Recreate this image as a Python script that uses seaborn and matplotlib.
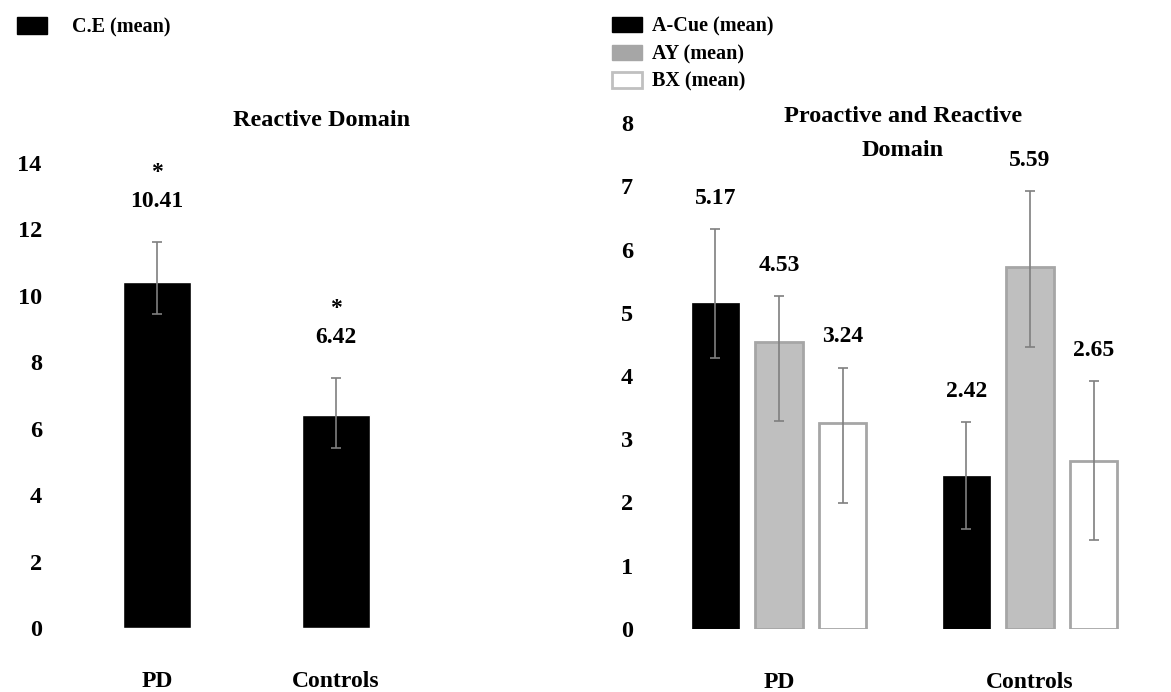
import numpy as np
import pandas as pd
import seaborn as sns
import matplotlib.pyplot as plt
from matplotlib.patches import Patch

# Data
groups = ["PD", "Controls"]

ce_mean = [10.41, 6.42]
ce_low = [9.46, 5.42]
ce_high = [11.63, 7.53]
ce_labels = ["10.41", "6.42"]

conditions = ["A-Cue (mean)", "AY (mean)", "BX (mean)"]
pd_means = [5.15, 4.54, 3.26]
ctrl_means = [2.42, 5.72, 2.66]
pd_low = [4.28, 3.29, 1.99]
pd_high = [6.32, 5.26, 4.13]
ctrl_low = [1.58, 4.46, 1.41]
ctrl_high = [3.27, 6.92, 3.92]
pd_labels = ["5.17", "4.53", "3.24"]
ctrl_labels = ["2.42", "5.59", "2.65"]

# Colours
BLACK = "#000000"
LIGHT = "#bfbfbf"
EDGE = "#a6a6a6"
ERR = "#7f7f7f"

sns.set_theme(style="white")
plt.rcParams['font.family'] = ['Liberation Serif', 'DejaVu Serif']
plt.rcParams['font.weight'] = 'bold'
for key in ['text.color', 'axes.labelcolor', 'xtick.color', 'ytick.color']:
    plt.rcParams[key] = BLACK

W, H = 1171, 692
fig = plt.figure(figsize=(W / 100, H / 100), dpi=100)


def px_axes(left, right, bottom, top):
    return fig.add_axes([left / W, (H - bottom) / H, (right - left) / W, (bottom - top) / H])


# ---------------- Left panel: Reactive Domain ----------------
ax1 = px_axes(58.5, 434.5, 628, 163)
df1 = pd.DataFrame({"group": groups, "value": ce_mean})
sns.barplot(data=df1, x="group", y="value", color=BLACK, width=0.375,
            saturation=1, errorbar=None, ax=ax1)
ax1.set_xlim(-0.55, 1.55)
ax1.set_ylim(0, 14)
ax1.set_yticks(np.arange(0, 15, 2))

xs1 = [p.get_x() + p.get_width() / 2 for p in ax1.patches]
yerr1 = [np.subtract(ce_mean, ce_low), np.subtract(ce_high, ce_mean)]
ax1.errorbar(xs1, ce_mean, yerr=yerr1, fmt="none", ecolor=ERR, elinewidth=1.2,
             capsize=3.5, capthick=1.2)
for x, top, lab in zip(xs1, ce_high, ce_labels):
    ax1.annotate(lab, (x, top), xytext=(0, 40), textcoords="offset pixels",
                 ha="center", va="center", fontsize=17, fontweight="bold")
    ax1.annotate("*", (x, top), xytext=(0, 69), textcoords="offset pixels",
                 ha="center", va="center", fontsize=17, fontweight="bold")

ax1.text(322 / W, (H - 121) / H, "Reactive Domain", transform=fig.transFigure,
         ha="center", va="center", fontsize=17.5, fontweight="bold")

# ---------------- Right panel: Proactive and Reactive Domain ----------------
ax2 = px_axes(660, 1160, 629, 123)
df2 = pd.DataFrame({
    "group": np.repeat(groups, len(conditions)),
    "condition": conditions * len(groups),
    "value": pd_means + ctrl_means,
})
sns.barplot(data=df2, x="group", y="value", hue="condition", hue_order=conditions,
            palette=[BLACK, LIGHT, "white"], width=0.76, gap=0.26, saturation=1,
            errorbar=None, legend=False, ax=ax2)
ax2.set_xlim(-0.474, 1.518)
ax2.set_ylim(0, 8)
ax2.set_yticks(np.arange(0, 9, 1))

bar_conts = list(ax2.containers)
edges = [BLACK, EDGE, EDGE]
for cont, ec in zip(bar_conts, edges):
    for bar in cont:
        bar.set_edgecolor(ec)
        bar.set_linewidth(2.0 if ec != BLACK else 0.5)

lows = [pd_low, ctrl_low]
highs = [pd_high, ctrl_high]
means = [pd_means, ctrl_means]
labels = [pd_labels, ctrl_labels]
for ci, cont in enumerate(bar_conts):
    for gi, bar in enumerate(cont):
        x = bar.get_x() + bar.get_width() / 2
        m = means[gi][ci]
        lo, hi = lows[gi][ci], highs[gi][ci]
        ax2.errorbar([x], [m], yerr=[[m - lo], [hi - m]], fmt="none", ecolor=ERR,
                     elinewidth=1.2, capsize=3.5, capthick=1.2)
        ax2.annotate(labels[gi][ci], (x, hi), xytext=(0, 31), textcoords="offset pixels",
                     ha="center", va="center", fontsize=17, fontweight="bold")

# two-line title, one text per line
for line, ypx in (("Proactive and Reactive", 117), ("Domain", 150)):
    ax2.text(903 / W, (H - ypx) / H, line, transform=fig.transFigure,
             ha="center", va="center", fontsize=17.5, fontweight="bold")

# Shared styling
for ax, ypad in ((ax1, 12), (ax2, 19.5)):
    sns.despine(ax=ax, left=True, bottom=True)
    ax.set_xlabel("")
    ax.set_ylabel("")
    ax.tick_params(axis="x", length=0, pad=31, labelsize=17)
    ax.tick_params(axis="y", length=0, pad=ypad, labelsize=17.5)
    for t in ax.get_xticklabels() + ax.get_yticklabels():
        t.set_fontweight("bold")
    ax.grid(False)
    ax.set_facecolor("white")

# Legends
leg1 = fig.legend(handles=[Patch(facecolor=BLACK, edgecolor=BLACK, label="C.E (mean)")],
                  loc="upper left", bbox_to_anchor=(9 / W, 1 - 9 / H), frameon=False,
                  borderaxespad=0, prop={"weight": "bold", "size": 14.5},
                  handlelength=1.5, handleheight=0.9, handletextpad=1.25)
leg2 = fig.legend(handles=[Patch(facecolor=BLACK, edgecolor=BLACK, label=conditions[0]),
                           Patch(facecolor="#a6a6a6", edgecolor="#a6a6a6", label=conditions[1]),
                           Patch(facecolor="white", edgecolor="#c0c0c0", linewidth=2,
                                 label=conditions[2])],
                  loc="upper left", bbox_to_anchor=(604 / W, 1 - 8.5 / H), frameon=False,
                  borderaxespad=0, prop={"weight": "bold", "size": 14.5},
                  handlelength=1.5, handleheight=0.8, handletextpad=0.5, labelspacing=0.38)

fig.savefig("out.png", dpi=100, facecolor="white")
